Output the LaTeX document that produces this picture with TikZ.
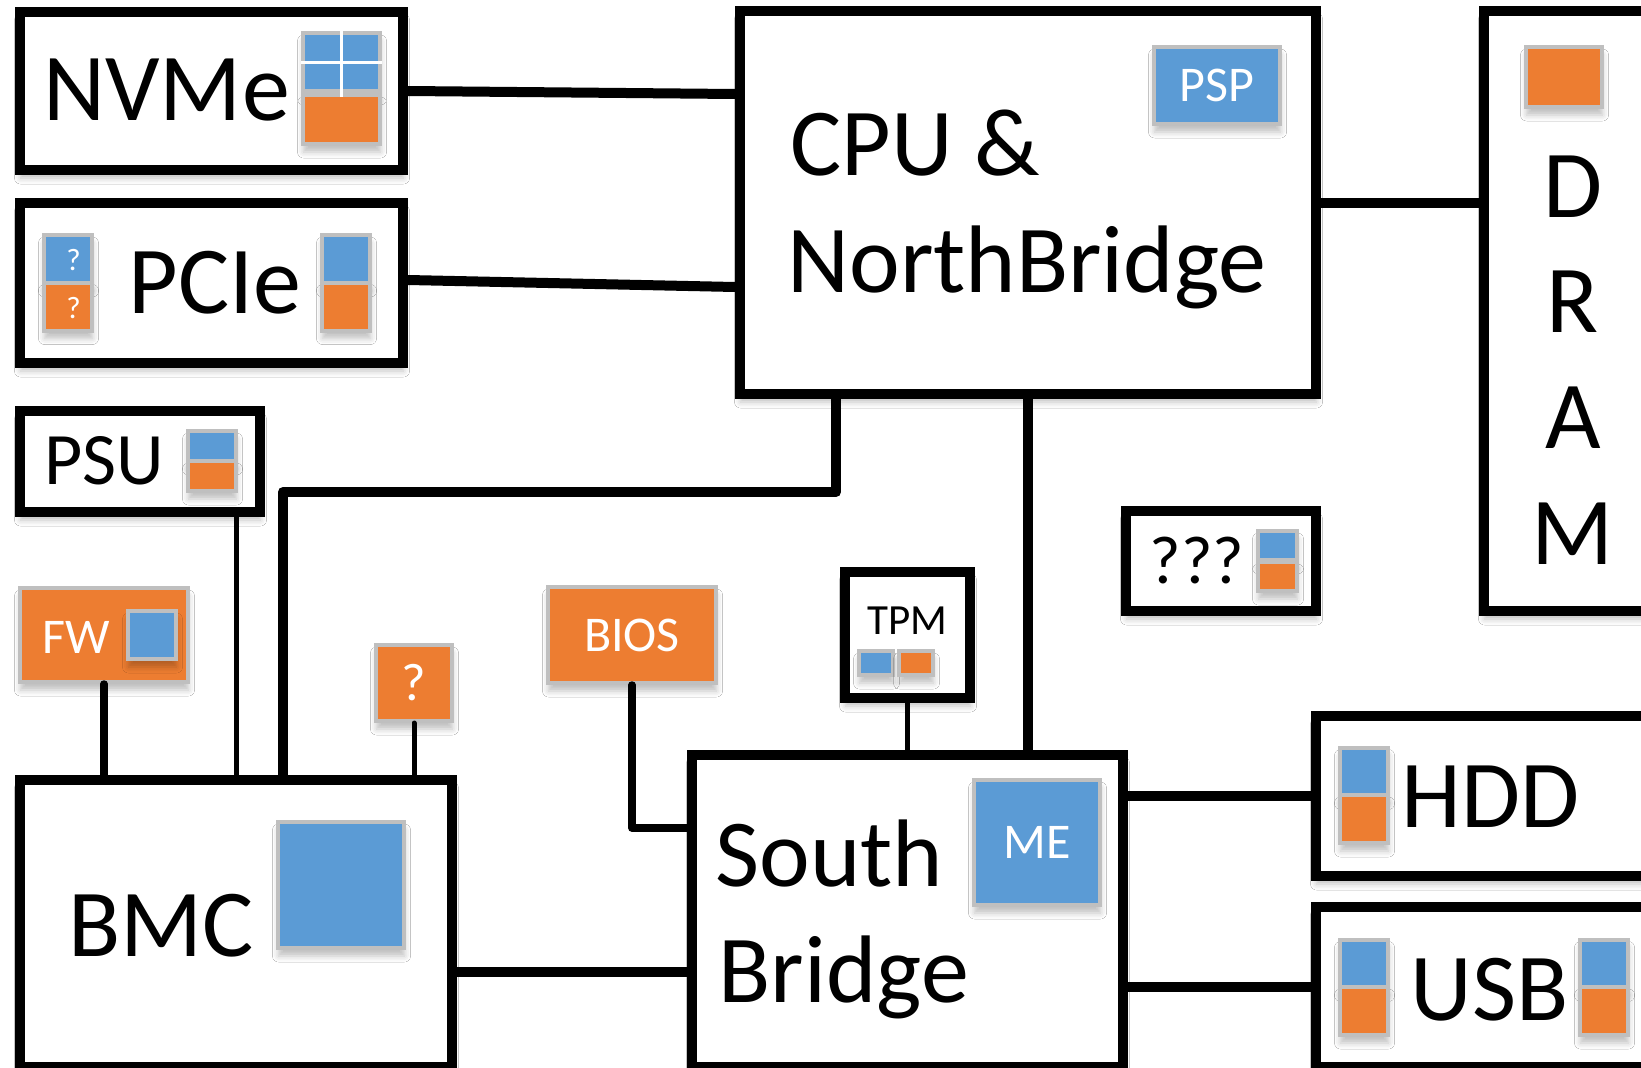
\documentclass[tikz,border=0pt]{standalone}
\usepackage{fontspec}
\setmainfont{Carlito}
\usetikzlibrary{shadows.blur}

\definecolor{ablue}{HTML}{5B9BD5}
\definecolor{aorange}{HTML}{ED7D31}
\definecolor{chipgray}{HTML}{BFBFBF}

\newcommand{\hugelabel}{\fontsize{96}{110}\selectfont}
\newcommand{\midlabel}{\fontsize{74}{88}\selectfont}
\newcommand{\qlabel}{\fontsize{68}{80}\selectfont}
\newcommand{\qmarklabel}{\fontsize{53}{62}\selectfont}
\newcommand{\taglabel}{\fontsize{50}{60}\selectfont}
\newcommand{\tpmlabel}{\fontsize{43}{52}\selectfont}
\newcommand{\tinylabel}{\fontsize{31}{38}\selectfont}

\tikzset{
  soft/.style={blur shadow={shadow xshift=0.5pt, shadow yshift=-8pt, shadow blur radius=6pt, shadow opacity=25}},
  unit/.style={draw=black, line width=10pt, fill=white, inner sep=0pt, soft},
  chip/.style={draw=chipgray, line width=4pt, inner sep=0pt, soft},
  bluechip/.style={chip, fill=ablue},
  orangechip/.style={chip, fill=aorange},
  bus/.style={line width=10pt, line join=round},
  port/.style={line width=7.5pt, line cap=round, line join=round},
  wire/.style={line width=5pt, line cap=round},
}

\begin{document}
\begin{tikzpicture}[x=1pt, y=-1pt]
  \useasboundingbox (0,0) rectangle (1641,1068);
  \clip (0,0) rectangle (1641,1068);
  \fill[white] (0,0) rectangle (1641,1068);

  % Boxes
  \node[unit, minimum width=383pt, minimum height=158pt] (nvme) at (211.5,91) {};
  \node[unit, minimum width=383pt, minimum height=160pt] (pcie) at (211.5,283) {};
  \node[unit, minimum width=240pt, minimum height=101pt] (psu) at (140,461.5) {};
  \node[unit, minimum width=576pt, minimum height=383pt] (cpu) at (1028,202.5) {};
  \node[unit, minimum width=300pt, minimum height=600pt] (dram) at (1634,311) {};
  \node[unit, minimum width=190pt, minimum height=100pt] (unknown) at (1221,561) {};
  \node[unit, minimum width=125pt, minimum height=126pt] (tpm) at (907.5,635) {};
  \node[unit, minimum width=431pt, minimum height=312pt] (sb) at (907.5,911) {};
  \node[unit, minimum width=432pt, minimum height=287pt] (bmc) at (236,923.5) {};
  \node[unit, minimum width=400pt, minimum height=160pt] (hdd) at (1516,796) {};
  \node[unit, minimum width=400pt, minimum height=160pt] (usb) at (1516,987) {};

  % Firmware blocks
  \node[orangechip, minimum width=168pt, minimum height=94pt] (fw) at (104,635) {};
  \node[orangechip, minimum width=168pt, minimum height=96pt, text=white, font=\taglabel] (bios) at (632,635) {BIOS};
  \node[orangechip, minimum size=76pt, text=white, font=\qmarklabel] (qbox) at (414,683) {?};
  \node[bluechip, minimum width=126pt, minimum height=77pt, text=white, font=\taglabel] (psp) at (1217,85.5) {PSP};
  \node[bluechip, minimum width=126pt, minimum height=125pt, text=white, font=\taglabel] (me) at (1037,842.5) {ME};
  \node[bluechip, minimum size=126pt] (bmcchip) at (341,885) {};

  % Chips
  \node[bluechip, minimum width=77pt, minimum height=58pt] (nvme-b) at (341.5,62) {};
  \node[orangechip, minimum width=77pt, minimum height=49pt] (nvme-o) at (341.5,119.5) {};
  \draw[white, line width=3pt] (nvme-b.north) -- ([yshift=-4pt]nvme-b.south);
  \draw[white, line width=3pt] (nvme-b.west) -- (nvme-b.east);
  \foreach \nm/\xx/\yy in {pciel/68/259, pcier/346/259, hddc/1364/771.5, usbl/1364/963.5, usbr/1604/963.5} {
    \node[bluechip, minimum size=48pt] (\nm-b) at (\xx,\yy) {};
    \node[orangechip, minimum size=48pt] (\nm-o) at (\xx,\yy+47.5) {};
  }
  \node[bluechip, minimum width=48pt, minimum height=30pt] (psu-b) at (212,446) {};
  \node[orangechip, minimum width=48pt, minimum height=30pt] (psu-o) at (212,476) {};
  \node[bluechip, minimum width=39pt, minimum height=29pt] (unknown-b) at (1277.5,545.5) {};
  \node[orangechip, minimum width=39pt, minimum height=29pt] (unknown-o) at (1277.5,576.5) {};
  \node[bluechip, minimum size=48pt] (fw-b) at (152,635) {};
  \node[bluechip, minimum width=34pt, minimum height=24pt] (tpm-b) at (876,663) {};
  \node[orangechip, minimum width=34pt, minimum height=24pt] (tpm-o) at (916,663) {};
  \node[orangechip, minimum width=76pt, minimum height=60pt] (dram-o) at (1564,77) {};

  % Labels
  \node[anchor=base west, font=\hugelabel] (nvmename) at (40,120) {NVMe};
  \node[anchor=base west, font=\hugelabel] (pciename) at (125,313) {PCIe};
  \node[font=\tinylabel, text=white] (pcieq1) at (73.5,260) {?};
  \node[font=\tinylabel, text=white] (pcieq2) at (73.5,308) {?};
  \node[anchor=base west, font=\midlabel] (psuname) at (41,484) {PSU};
  \node[anchor=base west, font=\hugelabel] (cpuname) at (787,175) {CPU \&};
  \node[anchor=base west, font=\hugelabel] (nbname) at (784,292) {NorthBridge};
  \foreach \ch/\yy in {D/217, R/332, A/448, M/564}
    \node[anchor=base, font=\hugelabel] (dram\ch) at (1573,\yy) {\ch};
  \node[anchor=base west, font=\qlabel] (unknownname) at (1146,583) {???};
  \node[anchor=base, font=\tpmlabel] (tpmname) at (907.5,634) {TPM};
  \node[anchor=base west, font=\taglabel, text=white] (fwname) at (39,653) {FW};
  \node[anchor=base west, font=\hugelabel] (southname) at (712,886) {South};
  \node[anchor=base west, font=\hugelabel] (bridgename) at (715,1002) {Bridge};
  \node[anchor=base west, font=\hugelabel] (bmcname) at (65,956) {BMC};
  \node[anchor=base west, font=\hugelabel] (hddname) at (1398,827) {HDD};
  \node[anchor=base west, font=\hugelabel] (usbname) at (1407,1020) {USB};

  % Connectors
  \coordinate (bend) at (283,492);
  \draw[bus] (nvme.east) -- ([yshift=108.5pt]cpu.west);
  \draw[bus] ([yshift=3pt]pcie.east) -- ([yshift=-84.5pt]cpu.west);
  \draw[bus] (cpu.east) -- (cpu.east -| dram.west);
  \draw[bus] ([xshift=-192pt]cpu.south) |- (bend) -- (bend |- bmc.north);
  \draw[bus] (cpu.south) -- (cpu.south |- sb.north);
  \draw[bus] (hdd.west -| sb.east) -- (hdd.west);
  \draw[bus] (usb.west -| sb.east) -- (usb.west);
  \draw[bus] ([yshift=-48.5pt]bmc.east) -- ([yshift=-61pt]sb.west);
  \draw[port] (bios.south) |- ([yshift=83pt]sb.west);
  \draw[port] (fw.south) -- (fw.south |- bmc.north);
  \draw[wire] (tpm.south) -- (sb.north);
  \draw[wire] (bmc.north |- psu.south) -- (bmc.north);
  \draw[wire] (qbox.south) -- (qbox.south |- bmc.north);
\end{tikzpicture}
\end{document}
